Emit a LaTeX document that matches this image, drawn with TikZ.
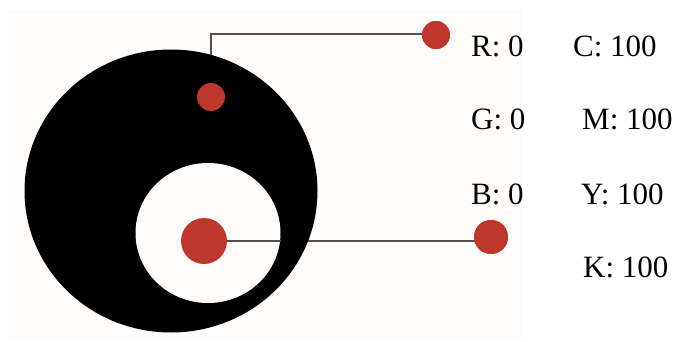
\documentclass[tikz,border=0pt]{standalone}
\usepackage{fontspec}
\setmainfont{Liberation Serif}
\usetikzlibrary{shapes.geometric}
\definecolor{bg}{RGB}{253,252,250}
\definecolor{dotred}{RGB}{190,55,45}
\definecolor{leader}{RGB}{85,80,78}
\tikzset{
  reddot/.style={circle,fill=dotred,draw=none,inner sep=0pt,minimum size=#1},
  leaderline/.style={draw=leader,line width=1.4pt},
  lbl/.style={anchor=base west,inner sep=0pt,font=\fontsize{31}{31}\selectfont}
}
\begin{document}
\begin{tikzpicture}[x=1pt,y=-1pt]
\useasboundingbox (0,0) rectangle (681,342);
\fill[white] (0,0) rectangle (681,342);
\fill[bg] (8,10) rectangle (522,340);
% connectors (behind shapes)
\coordinate (ctop) at (211,55);
\node[reddot=28pt] (tdot) at (436,35) {};
\node[reddot=34pt] (rdot) at (491,237) {};
\node[reddot=46pt] (bdot) at (204,241) {};
\draw[leaderline] ([yshift=1pt]tdot.center) -| (ctop);
\draw[leaderline] (bdot.center) -- (bdot.center -| rdot.center);
% big black circle
\node[ellipse,fill=black,draw=none,inner sep=0pt,minimum width=293pt,minimum height=283pt] (bigc) at (171,191) {};
\node[ellipse,fill=bg,draw=none,inner sep=0pt,minimum width=145pt,minimum height=140pt] (innc) at (208,233) {};
\draw[leaderline] (bdot.center) -- (bdot.center -| innc.east);
\node[reddot=28pt] (sdot) at (211,97) {};
\node[reddot=46pt] at (bdot) {};
\node[reddot=34pt] at (rdot) {};
\node[reddot=28pt] at (tdot) {};
% labels
\node[lbl] (r) at (471,57) {R: 0};
\node[lbl] (c) at (573,57) {C: 100};
\node[lbl] (g) at (471,130) {G: 0};
\node[lbl] (m) at (582,130) {M: 100};
\node[lbl] (b) at (471,205) {B: 0};
\node[lbl] (y) at (581,205) {Y: 100};
\node[lbl] (k) at (583,278) {K: 100};
\end{tikzpicture}
\end{document}
